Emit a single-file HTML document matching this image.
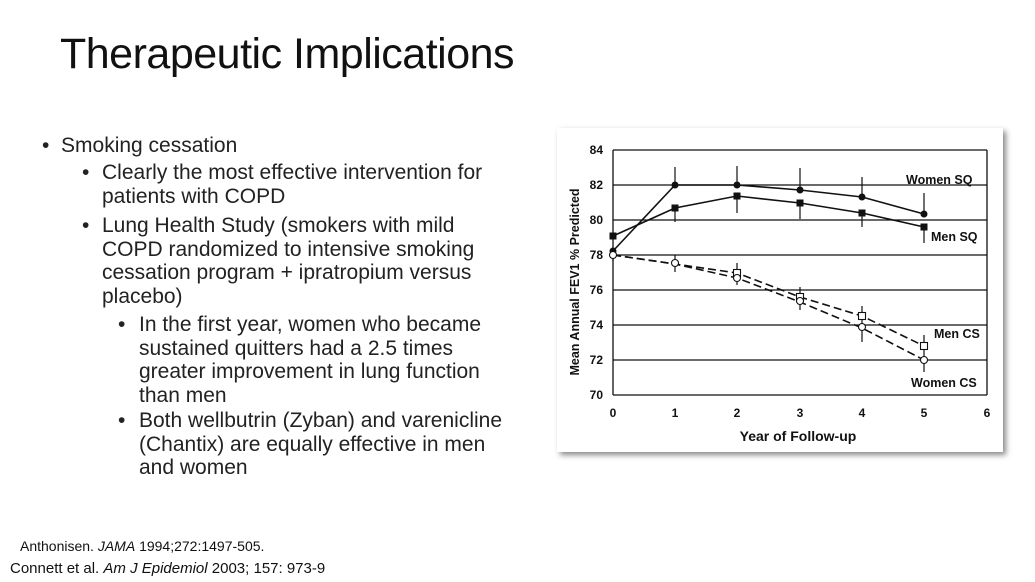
<!DOCTYPE html><html><head><style>
body{margin:0;width:1035px;height:582px;background:#fff;overflow:hidden;font-family:"Liberation Sans",Arial,sans-serif;position:relative}
.t{position:absolute;left:60px;top:30px;font-size:43px;color:#111;letter-spacing:-0.5px}
.b{position:absolute;font-size:21px;line-height:23.5px;color:#222}
.ref{position:absolute;font-size:15px;color:#111}
</style></head><body>
<div class="t">Therapeutic Implications</div>
<div class="b" style="left:42px;top:134px">•&nbsp; Smoking cessation</div>
<div class="b" style="left:82px;top:161px">•</div>
<div class="b" style="left:102px;top:161px;width:400px">Clearly the most effective intervention for patients with COPD</div>
<div class="b" style="left:82px;top:214px">•</div>
<div class="b" style="left:102px;top:214px;width:395px">Lung Health Study (smokers with mild COPD randomized to intensive smoking cessation program + ipratropium versus placebo)</div>
<div class="b" style="left:118px;top:313px">•</div>
<div class="b" style="left:139px;top:313px;width:365px">In the first year, women who became sustained quitters had a 2.5 times greater improvement in lung function than men</div>
<div class="b" style="left:118px;top:409px">•</div>
<div class="b" style="left:139px;top:409px;width:385px">Both wellbutrin (Zyban) and varenicline (Chantix) are equally effective in men and women</div>
<div class="ref" style="left:20px;top:538px;font-size:14px">Anthonisen. <i>JAMA</i> 1994;272:1497-505.</div>
<div class="ref" style="left:10px;top:560px">Connett et al. <i>Am J Epidemiol</i> 2003; 157: 973-9</div>
<svg style="position:absolute;left:0;top:0" width="1035" height="582">
<defs><filter id="s"><feDropShadow dx="3" dy="3" stdDeviation="3" flood-color="#888"/></filter></defs>
<rect x="557" y="128" width="446" height="324" fill="#fff" filter="url(#s)"/>
<g stroke="#111" stroke-width="1.3">
<line x1="613" y1="150" x2="987" y2="150"/><line x1="613" y1="185" x2="987" y2="185"/><line x1="613" y1="220" x2="987" y2="220"/><line x1="613" y1="255" x2="987" y2="255"/><line x1="613" y1="290" x2="987" y2="290"/><line x1="613" y1="325" x2="987" y2="325"/><line x1="613" y1="360" x2="987" y2="360"/><line x1="613" y1="395" x2="987" y2="395"/>
<line x1="613" y1="150" x2="613" y2="395"/><line x1="987" y1="150" x2="987" y2="395"/>
</g>
<g font-size="12" font-weight="bold" fill="#111" text-anchor="end">
<text x="603" y="154">84</text><text x="603" y="189">82</text><text x="603" y="224">80</text><text x="603" y="259">78</text><text x="603" y="294">76</text><text x="603" y="329">74</text><text x="603" y="364">72</text><text x="603" y="399">70</text></g>
<g font-size="12" font-weight="bold" fill="#111" text-anchor="middle">
<text x="613" y="417">0</text><text x="675" y="417">1</text><text x="737" y="417">2</text><text x="800" y="417">3</text><text x="862" y="417">4</text><text x="924" y="417">5</text><text x="987" y="417">6</text>
<text x="798" y="441" font-size="14">Year of Follow-up</text>
<text transform="translate(579,282) rotate(-90)" font-size="12.5">Mean Annual FEV1 % Predicted</text></g>
<g font-size="12.5" font-weight="bold" fill="#111">
<text x="906" y="184">Women SQ</text><text x="931" y="241">Men SQ</text><text x="934" y="338">Men CS</text><text x="911" y="387">Women CS</text></g>
<g stroke="#111" stroke-width="1.2">
<line x1="675" y1="167" x2="675" y2="185"/><line x1="737" y1="166" x2="737" y2="185"/><line x1="800" y1="168" x2="800" y2="190"/><line x1="862" y1="177" x2="862" y2="197"/><line x1="924" y1="193" x2="924" y2="215"/>
<line x1="675" y1="208" x2="675" y2="222"/><line x1="737" y1="196" x2="737" y2="213"/><line x1="800" y1="203" x2="800" y2="219"/><line x1="862" y1="213" x2="862" y2="227"/><line x1="924" y1="227" x2="924" y2="243"/>
<line x1="613" y1="255" x2="613" y2="261"/>
<line x1="675" y1="255" x2="675" y2="272"/><line x1="737" y1="263" x2="737" y2="285"/><line x1="800" y1="287" x2="800" y2="310"/><line x1="862" y1="306" x2="862" y2="342"/><line x1="924" y1="335" x2="924" y2="372"/>
</g>
<g fill="none" stroke="#111" stroke-width="1.6">
<polyline points="613,251 675,185 737,185 800,190 862,197 924,214"/>
<polyline points="613,236 675,208 737,196 800,203 862,213 924,227"/>
<polyline points="613,255 675,264 737,273 800,297 862,316 924,346" stroke-dasharray="8,4"/>
<polyline points="613,255 675,264 737,278 800,302 862,328 924,360" stroke-dasharray="8,4"/>
</g>
<g fill="#111"><circle cx="613" cy="251" r="3.5"/><circle cx="675" cy="185" r="3.5"/><circle cx="737" cy="185" r="3.5"/><circle cx="800" cy="190" r="3.5"/><circle cx="862" cy="197" r="3.5"/><circle cx="924" cy="214" r="3.5"/>
<rect x="609.5" y="232.5" width="7" height="7"/><rect x="671.5" y="204.5" width="7" height="7"/><rect x="733.5" y="192.5" width="7" height="7"/><rect x="796.5" y="199.5" width="7" height="7"/><rect x="858.5" y="209.5" width="7" height="7"/><rect x="920.5" y="223.5" width="7" height="7"/></g>
<g fill="#fff" stroke="#111" stroke-width="1.1">
<rect x="733.5" y="269.5" width="7" height="7"/><rect x="796.5" y="293.5" width="7" height="7"/><rect x="858.5" y="312.5" width="7" height="7"/><rect x="920.5" y="342.5" width="7" height="7"/>
<circle cx="613" cy="255" r="3.5"/><circle cx="675" cy="263" r="3.5"/><circle cx="737" cy="278" r="3.5"/><circle cx="800" cy="301" r="3.5"/><circle cx="862" cy="327" r="3.5"/><circle cx="924" cy="360" r="3.5"/></g>
</svg>
</body></html>
